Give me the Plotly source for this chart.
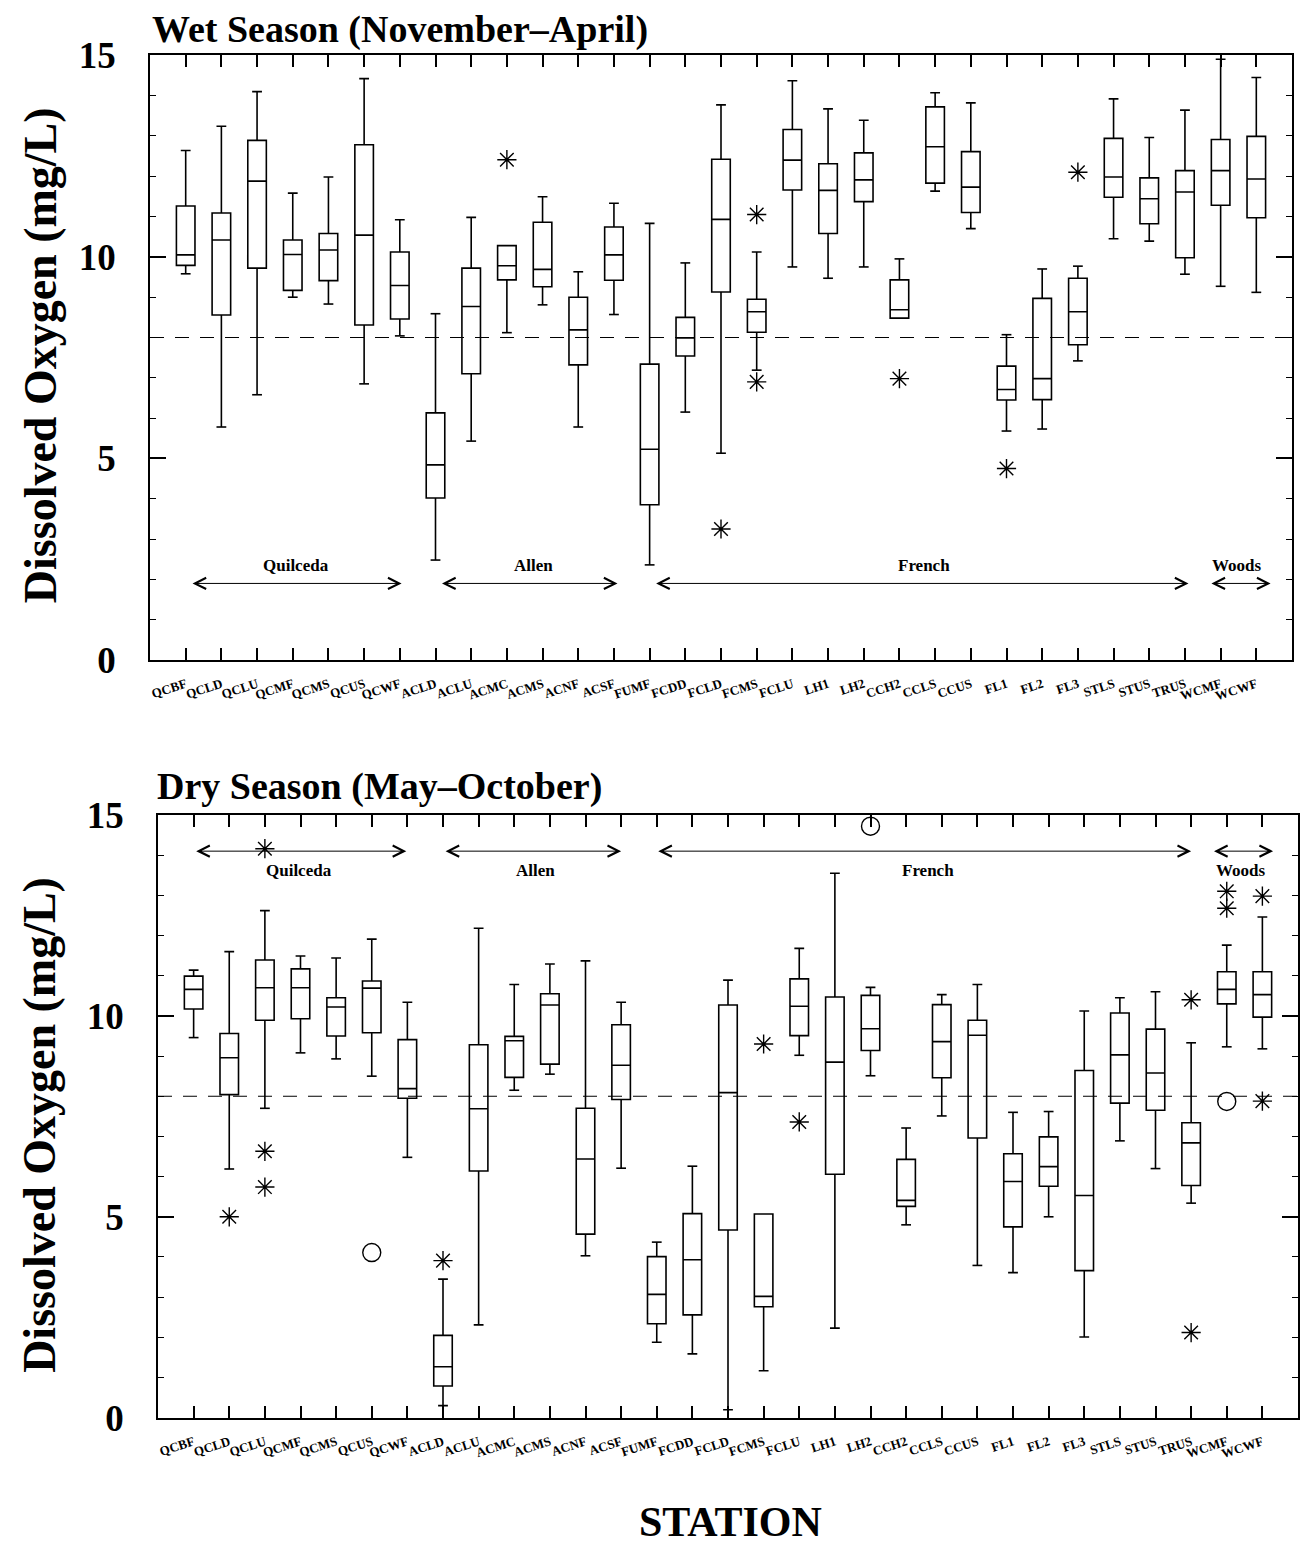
import plotly.graph_objects as go

W, H = 1307, 1553

stations = ["QCBF", "QCLD", "QCLU", "QCMF", "QCMS", "QCUS", "QCWF",
            "ACLD", "ACLU", "ACMC", "ACMS", "ACNF", "ACSF",
            "FUMF", "FCDD", "FCLD", "FCMS", "FCLU", "LH1", "LH2", "CCH2", "CCLS", "CCUS",
            "FL1", "FL2", "FL3", "STLS", "STUS", "TRUS", "WCMF", "WCWF"]

# Wet season (November-April)
wet_low = [9.58, 5.78, 6.58, 9.00, 8.83, 6.85, 8.04, 2.48, 5.43, 8.12, 8.81, 5.78, 8.57,
           2.36, 6.15, 5.13, 7.19, 9.75, 9.47, 9.75, 8.48, 11.63, 10.70,
           5.68, 5.73, 7.42, 10.45, 10.39, 9.57, 9.27, 9.12]
wet_q1 = [9.79, 8.56, 9.72, 9.17, 9.41, 8.31, 8.46, 4.02, 7.10, 9.43, 9.26, 7.32, 9.42,
          3.85, 7.54, 9.13, 8.13, 11.66, 10.58, 11.37, 8.48, 11.83, 11.10,
          6.45, 6.46, 7.82, 11.48, 10.82, 9.98, 11.28, 10.97]
wet_med = [10.05, 10.42, 11.88, 10.06, 10.17, 10.54, 9.29, 4.84, 8.77, 9.78, 9.69, 8.19, 10.05,
           5.23, 7.99, 10.93, 8.64, 12.40, 11.65, 11.91, 8.69, 12.73, 11.73,
           6.71, 6.98, 8.64, 11.98, 11.44, 11.61, 12.14, 11.93]
wet_q3 = [11.26, 11.09, 12.89, 10.42, 10.58, 12.78, 10.12, 6.13, 9.72, 10.28, 10.86, 9.00, 10.74,
          7.34, 8.50, 12.42, 8.95, 13.16, 12.31, 12.58, 9.43, 13.72, 12.61,
          7.29, 8.97, 9.47, 12.94, 11.96, 12.14, 12.91, 12.99]
wet_high = [12.64, 13.24, 14.10, 11.58, 11.98, 14.42, 10.92, 8.59, 10.98, 10.28, 11.49, 9.63, 11.33,
            10.83, 9.85, 13.77, 10.12, 14.37, 13.67, 13.39, 9.95, 14.07, 13.82,
            8.07, 9.70, 9.77, 13.92, 12.96, 13.64, 14.90, 14.45]
wet_out_station = ["ACMC", "FCLD", "FCMS", "FCMS", "CCH2", "FL1", "FL3"]
wet_out_value = [12.41, 3.25, 11.05, 6.90, 6.98, 4.75, 12.10]
wet_out_kind = ["star", "star", "star", "star", "star", "star", "star"]

# Dry season (May-October)
dry_low = [9.46, 6.19, 7.70, 9.08, 8.93, 8.50, 6.48, 0.30, 2.31, 8.15, 8.55, 4.03, 6.21,
           1.88, 1.59, 0.20, 1.17, 9.02, 2.23, 8.51, 4.80, 7.51, 3.79,
           3.61, 5.00, 2.01, 6.89, 6.20, 5.34, 9.23, 9.18]
dry_q1 = [10.17, 8.04, 9.89, 9.93, 9.50, 9.58, 7.95, 0.79, 6.14, 8.47, 8.80, 4.57, 7.92,
          2.34, 2.56, 4.67, 2.76, 9.51, 6.06, 9.14, 5.26, 8.46, 6.96,
          4.75, 5.76, 3.66, 7.83, 7.65, 5.78, 10.30, 9.97]
dry_med = [10.66, 8.96, 10.70, 10.70, 10.22, 10.69, 8.19, 1.27, 7.69, 9.38, 10.27, 6.44, 8.77,
           3.07, 3.93, 8.09, 3.02, 10.24, 8.85, 9.68, 5.41, 9.36, 9.52,
           5.88, 6.25, 5.53, 9.03, 8.58, 6.84, 10.66, 10.53]
dry_q3 = [10.99, 9.56, 11.39, 11.17, 10.45, 10.87, 9.41, 2.05, 9.28, 9.49, 10.55, 7.70, 9.78,
          4.01, 5.08, 10.27, 5.07, 10.92, 10.47, 10.51, 6.43, 10.28, 9.89,
          6.57, 6.99, 8.64, 10.07, 9.67, 7.34, 11.10, 11.10]
dry_high = [11.14, 11.60, 12.62, 11.49, 11.44, 11.91, 10.34, 3.45, 12.18, 10.78, 11.29, 11.37, 10.34,
            4.37, 6.26, 10.89, 5.07, 11.68, 13.55, 10.71, 7.21, 10.53, 10.78,
            7.60, 7.62, 10.12, 10.45, 10.60, 9.33, 11.76, 12.46]
dry_out_station = ["QCLD", "QCLU", "QCLU", "QCLU", "QCUS", "ACLD", "FCMS", "FCLU", "LH2",
                   "TRUS", "TRUS", "WCMF", "WCMF", "WCMF", "WCWF", "WCWF"]
dry_out_value = [5.00, 14.16, 6.63, 5.74, 4.11, 3.91, 9.30, 7.36, 14.72,
                 10.40, 2.12, 13.10, 12.68, 7.87, 12.98, 7.88]
dry_out_kind = ["star", "star", "star", "star", "circle", "star", "star", "star", "circle",
                "star", "star", "star", "star", "circle", "star", "star"]

standard_value = 8
groups = ["Quilceda", "Allen", "French", "Woods"]

SERIF = "Liberation Serif"
pos = list(range(1, len(stations) + 1))
idx = {s: i + 1 for i, s in enumerate(stations)}


def py(y_px):
    """vertical pixel position (top-down) -> paper fraction, with render correction"""
    y = (y_px - 19.7) / 0.974
    return 1 - y / H


fig = go.Figure()


def add_panel(xa, ya, low, q1, med, q3, high, out_st, out_val, out_kind):
    fig.add_trace(go.Box(
        x=pos, q1=q1, median=med, q3=q3, lowerfence=low, upperfence=high,
        width=0.52, fillcolor="white", line=dict(color="black", width=1.6),
        marker=dict(color="black"),
        boxpoints=False, whiskerwidth=0, xaxis=xa, yaxis=ya, showlegend=False,
        hoverinfo="skip"))
    cx, cy = [], []
    for p, a, b, c, d in zip(pos, low, q1, q3, high):
        if a < b:
            cx.append(p); cy.append(a)
        if d > c:
            cx.append(p); cy.append(d)
    fig.add_trace(go.Scatter(
        x=cx, y=cy, mode="markers", xaxis=xa, yaxis=ya, showlegend=False,
        marker=dict(symbol="line-ew-open", size=7, color="black",
                    line=dict(color="black", width=1.6)),
        hoverinfo="skip"))
    sx = [idx[s] for s, k in zip(out_st, out_kind) if k == "star"]
    sy = [v for v, k in zip(out_val, out_kind) if k == "star"]
    ox = [idx[s] for s, k in zip(out_st, out_kind) if k == "circle"]
    oy = [v for v, k in zip(out_val, out_kind) if k == "circle"]
    fig.add_trace(go.Scatter(
        x=sx, y=sy, mode="markers", xaxis=xa, yaxis=ya, showlegend=False,
        marker=dict(symbol="asterisk-open", size=16, color="black",
                    line=dict(color="black", width=1.4)),
        hoverinfo="skip"))
    fig.add_trace(go.Scatter(
        x=ox, y=oy, mode="markers", xaxis=xa, yaxis=ya, showlegend=False,
        marker=dict(symbol="circle-open", size=18, color="black",
                    line=dict(color="black", width=1.4)),
        hoverinfo="skip"))


add_panel("x", "y", wet_low, wet_q1, wet_med, wet_q3, wet_high,
          wet_out_station, wet_out_value, wet_out_kind)
add_panel("x2", "y2", dry_low, dry_q1, dry_med, dry_q3, dry_high,
          dry_out_station, dry_out_value, dry_out_kind)

xcommon = dict(range=[0, 32], tickmode="array", tickvals=pos, ticktext=stations,
               tickangle=-18, ticks="inside", ticklen=12, tickwidth=1.5, tickcolor="black",
               showline=True, linecolor="black", linewidth=1.6, mirror="ticks",
               showgrid=False, zeroline=False, ticklabelstandoff=10,
               tickfont=dict(family=SERIF, size=13, color="black", weight="bold"))
ycommon = dict(range=[0, 15], tickmode="array", tickvals=[0, 5, 10, 15],
               ticks="inside", ticklen=16, tickwidth=1.5, tickcolor="black",
               minor=dict(ticks="inside", tickvals=list(range(0, 16)), ticklen=6,
                          tickwidth=1.2, tickcolor="black"),
               showline=True, linecolor="black", linewidth=1.6, mirror="ticks",
               showgrid=False, zeroline=False, ticklabelstandoff=25,
               tickfont=dict(family=SERIF, size=37, color="black", weight="bold"))

fig.update_layout(
    width=W, height=H, margin=dict(l=0, r=0, t=0, b=0),
    paper_bgcolor="white", plot_bgcolor="white", showlegend=False,
    xaxis=dict(domain=[150 / W, 1292 / W], anchor="y", **xcommon),
    yaxis=dict(domain=[py(660), py(55)], anchor="x", **ycommon),
    xaxis2=dict(domain=[158 / W, 1298 / W], anchor="y2", **xcommon),
    yaxis2=dict(domain=[py(1418), py(815)], anchor="x2", **ycommon),
)

for xr, yr in (("x", "y"), ("x2", "y2")):
    fig.add_shape(type="line", xref=xr + " domain", yref=yr, x0=0, x1=1,
                  y0=standard_value, y1=standard_value,
                  line=dict(color="black", width=1.2, dash="14px,11px"))

arrow_spans = {
    "x": [(1.15, 7.05), (8.14, 13.1), (14.14, 29.1), (29.7, 31.4)],
    "x2": [(1.03, 6.97), (8.03, 13.0), (14.0, 29.0), (29.6, 31.3)],
}
label_x = {"x": [4.08, 10.75, 21.7, 30.47], "x2": [3.97, 10.6, 21.6, 30.4]}
arrow_y = {"x": 1.9, "x2": 14.1}
label_y = {"x": 2.35, "x2": 13.62}
for xr, yr in (("x", "y"), ("x2", "y2")):
    for g, (a, b), lx in zip(groups, arrow_spans[xr], label_x[xr]):
        fig.add_annotation(x=b, y=arrow_y[xr], ax=a, ay=arrow_y[xr], xref=xr, yref=yr,
                           axref=xr, ayref=yr, text="", showarrow=True,
                           arrowside="end+start", arrowhead=5, arrowsize=2.2,
                           arrowwidth=1, arrowcolor="black", standoff=0, startstandoff=0)
        fig.add_annotation(x=lx, y=label_y[xr], xref=xr, yref=yr, text=g, showarrow=False,
                           font=dict(family=SERIF, size=17, color="black", weight="bold"))

fig.add_annotation(x=150 / W, y=py(29), xref="paper", yref="paper", xanchor="left",
                   yanchor="middle", text="Wet Season (November\u2013April)", showarrow=False,
                   font=dict(family=SERIF, size=38, color="black", weight="bold"))
fig.add_annotation(x=155 / W, y=py(787), xref="paper", yref="paper", xanchor="left",
                   yanchor="middle", text="Dry Season (May\u2013October)", showarrow=False,
                   font=dict(family=SERIF, size=38, color="black", weight="bold"))
for yc in (355, 1125):
    fig.add_annotation(x=40 / W, y=py(yc), xref="paper", yref="paper",
                       text="Dissolved Oxygen (mg/L)", textangle=-90, showarrow=False,
                       xanchor="center", yanchor="middle",
                       font=dict(family=SERIF, size=46, color="black", weight="bold"))
fig.add_annotation(x=730 / W, y=py(1522), xref="paper", yref="paper",
                   text="STATION", showarrow=False, xanchor="center", yanchor="middle",
                   font=dict(family=SERIF, size=42, color="black", weight="bold"))

fig.write_html("out.html")
